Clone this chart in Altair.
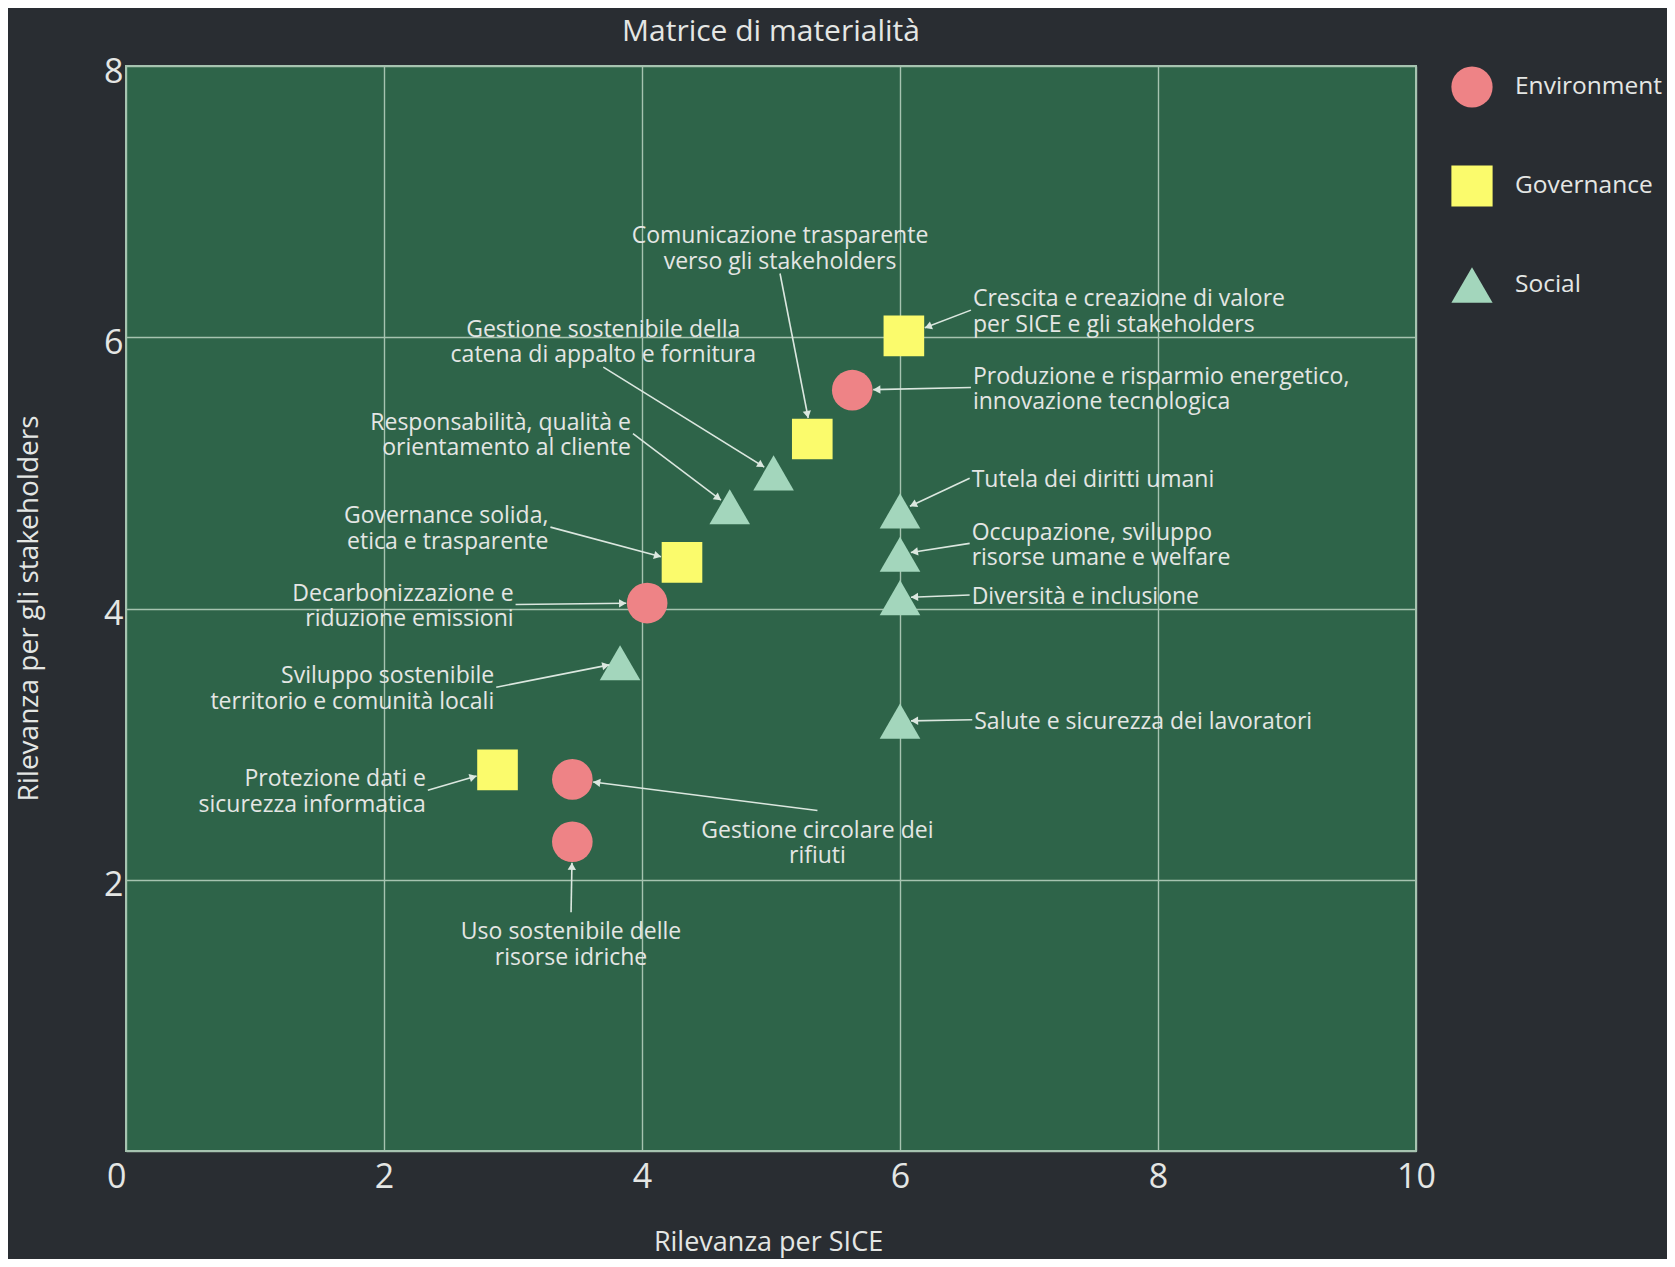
import math
import altair as alt
import pandas as pd

# ---------------- data ----------------
topics = [
    "Comunicazione trasparente\nverso gli stakeholders",
    "Crescita e creazione di valore\nper SICE e gli stakeholders",
    "Produzione e risparmio energetico,\ninnovazione tecnologica",
    "Gestione sostenibile della\ncatena di appalto e fornitura",
    "Responsabilità, qualità e\norientamento al cliente",
    "Governance solida,\netica e trasparente",
    "Decarbonizzazione e\nriduzione emissioni",
    "Sviluppo sostenibile\nterritorio e comunità locali",
    "Protezione dati e\nsicurezza informatica",
    "Gestione circolare dei\nrifiuti",
    "Uso sostenibile delle\nrisorse idriche",
    "Tutela dei diritti umani",
    "Occupazione, sviluppo\nrisorse umane e welfare",
    "Diversità e inclusione",
    "Salute e sicurezza dei lavoratori",
]
categories = [
    "Governance", "Governance", "Environment", "Social", "Social",
    "Governance", "Environment", "Social", "Governance", "Environment",
    "Environment", "Social", "Social", "Social", "Social",
]
sice = [5.32, 6.03, 5.63, 5.02, 4.68, 4.31, 4.04, 3.83, 2.88, 3.46, 3.46, 6.0, 6.0, 6.0, 6.0]
stakeholders = [5.25, 6.01, 5.61, 5.00, 4.75, 4.34, 4.04, 3.60, 2.81, 2.74, 2.28, 4.72, 4.40, 4.08, 3.17]

# annotation anchors (in data units) and where the text sits relative to them
label_x = [5.07, 6.55, 6.55, 3.70, 3.93, 3.29, 3.02, 2.87, 2.34, 5.36, 3.45, 6.54, 6.54, 6.54, 6.56]
label_y = [6.47, 6.20, 5.63, 5.78, 5.29, 4.60, 4.03, 3.42, 2.66, 2.51, 1.76, 4.96, 4.48, 4.10, 3.18]
label_side = ["above", "right", "right", "above", "left", "left", "left", "left", "left",
              "below", "below", "right", "right", "right", "right"]

cat_domain = ["Environment", "Governance", "Social"]
cat_colors = ["#ee8386", "#fbfb6c", "#a3d6bc"]
cat_shapes = ["circle", "square", "triangle-up"]

# ---------------- layout ----------------
W, H = 1290, 1085
XMAX, YMAX = 10, 8
PX_X, PX_Y = W / XMAX, H / YMAX

BG = "#292d32"
PLOT_BG = "#2e6449"
GRID = "#a6c3b0"
TEXT = "#e4e6e4"
ARROW = "#dbe7df"
FONT = "Open Sans"
ANN_SIZE = 23
LH = 25.5

df = pd.DataFrame({
    "topic": topics, "category": categories, "x": sice, "y": stakeholders,
    "lx": label_x, "ly": label_y, "side": label_side,
})

# multi-line blocks: shift so the whole block sits on its anchor
def text_y(row):
    n = row.topic.count("\n") + 1
    if row.side in ("left", "right"):
        shift = (n - 1) * LH / 2
    elif row.side == "above":
        shift = (n - 1) * LH
    else:
        shift = 0
    return row.ly + shift / PX_Y

df["ty_text"] = df.apply(text_y, axis=1)

# arrows: from label anchor to marker edge
standoff = {"Environment": 21.0, "Governance": 20.0, "Social": 11.0}
rows = []
for _, r in df.iterrows():
    vx = (r.lx - r.x) * PX_X
    vy = (r.ly - r.y) * PX_Y
    d = math.hypot(vx, vy)
    ux, uy = vx / d, vy / d
    s = standoff[r.category]
    if r.category == "Governance":
        s = 20.0 / max(abs(ux), abs(uy)) + 1
    hx = r.x + ux * s / PX_X
    hy = r.y + uy * s / PX_Y
    ah = 3.5  # half height of arrowhead
    ax_ = r.x + ux * (s + ah) / PX_X
    ay_ = r.y + uy * (s + ah) / PX_Y
    ang = math.degrees(math.atan2(-ux, -uy)) % 360
    rows.append({"tx": r.lx, "ty": r.ly, "hx": hx, "hy": hy, "ax": ax_, "ay": ay_, "angle": ang})
arrows = pd.DataFrame(rows)

xscale = alt.Scale(domain=[0, XMAX], nice=False, zero=False)
yscale = alt.Scale(domain=[0, YMAX], nice=False, zero=False)
XT = "Rilevanza per SICE"
YT = "Rilevanza per gli stakeholders"

xaxis = alt.Axis(
    values=[0, 2, 4, 6, 8, 10], grid=True, gridColor=GRID, gridWidth=1.4,
    domain=False, ticks=False, labelFontSize=34, labelFont=FONT, labelColor=TEXT,
    labelPadding=9, format="d",
    labelAlign={"condition": {"test": "datum.value == 0", "value": "right"}, "value": "center"},
    titleFontSize=27, titleFont=FONT, titleColor=TEXT, titleFontWeight="normal",
    titleX=642, titleY=91, titleBaseline="middle", titleAlign="center",
)
yaxis = alt.Axis(
    values=[0, 2, 4, 6, 8], grid=True, gridColor=GRID, gridWidth=1.4,
    domain=False, ticks=False, labelFontSize=34, labelFont=FONT, labelColor=TEXT,
    labelPadding=3, labelOffset=6, format="d",
    labelExpr="datum.value == 0 ? '' : datum.label",
    titleFontSize=28, titleFont=FONT, titleColor=TEXT, titleFontWeight="normal",
    titleAngle=270, titleX=-97, titleY=542, titleBaseline="middle", titleAlign="center",
)

legend = alt.Legend(
    orient="none", legendX=1325, legendY=0, title=None, padding=0,
    symbolSize=1700, symbolStrokeWidth=0, symbolOpacity=1,
    labelFontSize=24.5, labelFont=FONT, labelColor=TEXT, labelOffset=22,
    rowPadding=57,
)

points = alt.Chart(df).mark_point(filled=True, size=1650, opacity=1, strokeWidth=0).encode(
    x=alt.X("x:Q", scale=xscale, axis=xaxis, title=XT),
    y=alt.Y("y:Q", scale=yscale, axis=yaxis, title=YT),
    color=alt.Color("category:N", scale=alt.Scale(domain=cat_domain, range=cat_colors), legend=legend),
    shape=alt.Shape("category:N", scale=alt.Scale(domain=cat_domain, range=cat_shapes), legend=legend),
)

rules = alt.Chart(arrows).mark_rule(color=ARROW, strokeWidth=1.6).encode(
    x=alt.X("tx:Q", scale=xscale, title=XT),
    y=alt.Y("ty:Q", scale=yscale, title=YT),
    x2="hx:Q", y2="hy:Q",
)

heads = alt.Chart(arrows).mark_point(shape="triangle-up", filled=True, size=70, color=ARROW, opacity=1).encode(
    x=alt.X("ax:Q", scale=xscale, title=XT),
    y=alt.Y("ay:Q", scale=yscale, title=YT),
    angle=alt.Angle("angle:Q", scale=None),
)

side_style = {
    "right": dict(align="left", baseline="middle", dx=2, dy=2),
    "left": dict(align="right", baseline="middle", dx=-2, dy=2),
    "above": dict(align="center", baseline="bottom", dx=0, dy=0),
    "below": dict(align="center", baseline="top", dx=0, dy=9),
}
texts = []
for side, st in side_style.items():
    texts.append(
        alt.Chart(df).transform_filter(alt.datum.side == side).mark_text(
            font=FONT, fontSize=ANN_SIZE, lineHeight=LH, lineBreak="\n", color=TEXT, **st
        ).encode(
            x=alt.X("lx:Q", scale=xscale, title=XT),
            y=alt.Y("ty_text:Q", scale=yscale, title=YT),
            text="topic:N",
        )
    )

chart = alt.layer(points, rules, heads, *texts).properties(
    width=W, height=H,
    autosize=alt.AutoSizeParams(type="none"),
    padding={"left": 118, "top": 58, "right": 251, "bottom": 108},
    title=alt.TitleParams(
        "Matrice di materialità", fontSize=30, font=FONT, color=TEXT,
        fontWeight="normal", anchor="middle", frame="group", offset=8,
    ),
).configure(background=BG).configure_view(
    fill=PLOT_BG, stroke=GRID, strokeWidth=2
)

chart.save("out.html", embed_options={"renderer": "svg", "actions": False})
